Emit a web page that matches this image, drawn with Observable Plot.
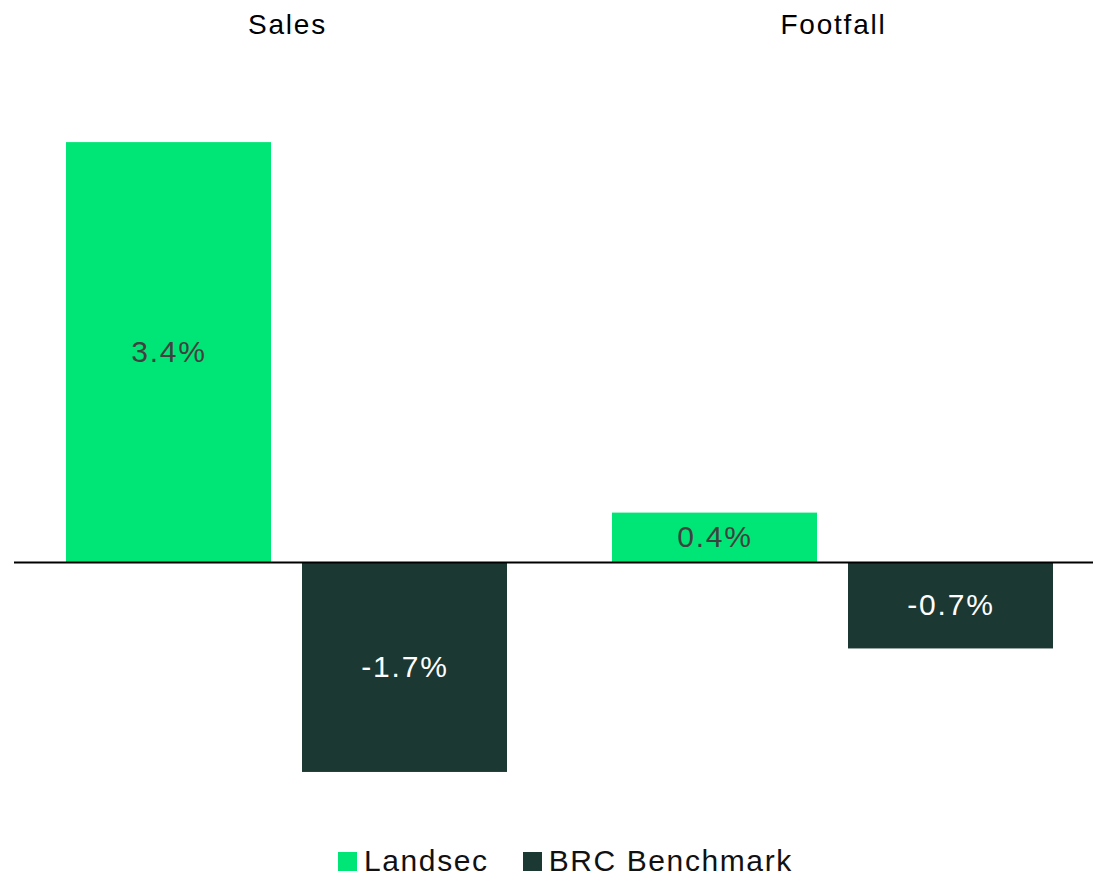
<!DOCTYPE html>
<html>
<head>
<meta charset="utf-8">
<script src="https://cdn.jsdelivr.net/npm/d3@7"></script>
<script src="https://cdn.jsdelivr.net/npm/@observablehq/plot@0.6"></script>
<style>
  body { margin: 0; background: #fff; font-family: "Liberation Sans", Arial, sans-serif; }
  #chart svg text { letter-spacing: 1.8px; }
  #chart svg text.val { letter-spacing: 2.5px; }
  .legend { display: flex; align-items: center; margin-left: 338px; height: 42px; font-size: 30px; letter-spacing: 1.6px; color: #111; }
  .legend .item { display: flex; align-items: center; margin-right: 34px; }
  .legend .sw { width: 19px; height: 19px; margin-right: 7px; display: inline-block; }
</style>
</head>
<body>
<div id="chart"></div>
<div class="legend" id="legend"></div>
<script>
const groups = ["Sales", "Footfall"];
const seriesNames = ["Landsec", "BRC Benchmark"];
const landsecValues = [3.4, 0.4];
const brcValues = [-1.7, -0.7];
const colors = ["#00e676", "#1b3832"];
const labelColors = ["#404040", "#ffffff"];

const data = groups.flatMap((g, i) => [
  {group: g, series: seriesNames[0], value: landsecValues[i]},
  {group: g, series: seriesNames[1], value: brcValues[i]}
]);

const plot = Plot.plot({
  width: 1093,
  height: 840,
  marginLeft: 14,
  marginRight: -13,
  marginTop: 68,
  marginBottom: 31,
  style: {fontFamily: "Liberation Sans, Arial, sans-serif", background: "#fff"},
  fx: {domain: groups, padding: 0, axis: null, label: null},
  x: {domain: seriesNames, paddingInner: 0.131, paddingOuter: 0.22, axis: null, label: null},
  y: {domain: [-2, 4], axis: null, label: null},
  color: {domain: seriesNames, range: colors},
  marks: [
    Plot.barY(data, {fx: "group", x: "series", y: "value", fill: "series"}),
    Plot.ruleY([0], {stroke: "#000", strokeWidth: 2}),
    Plot.text(data, {
      fx: "group", x: "series", y: d => d.value / 2,
      text: d => d.value.toFixed(1) + "%",
      fill: d => labelColors[seriesNames.indexOf(d.series)],
      fontSize: 30, className: "val"
    }),
    Plot.text(groups, {
      fx: d => d, text: d => d, frameAnchor: "top", lineAnchor: "middle",
      dy: -43, fontSize: 28, fill: "#000"
    })
  ]
});
document.getElementById("chart").appendChild(plot);

const legend = document.getElementById("legend");
seriesNames.forEach((s, i) => {
  const item = document.createElement("span");
  item.className = "item";
  const sw = document.createElement("span");
  sw.className = "sw";
  sw.style.background = colors[i];
  item.appendChild(sw);
  item.appendChild(document.createTextNode(s));
  legend.appendChild(item);
});
</script>
</body>
</html>
